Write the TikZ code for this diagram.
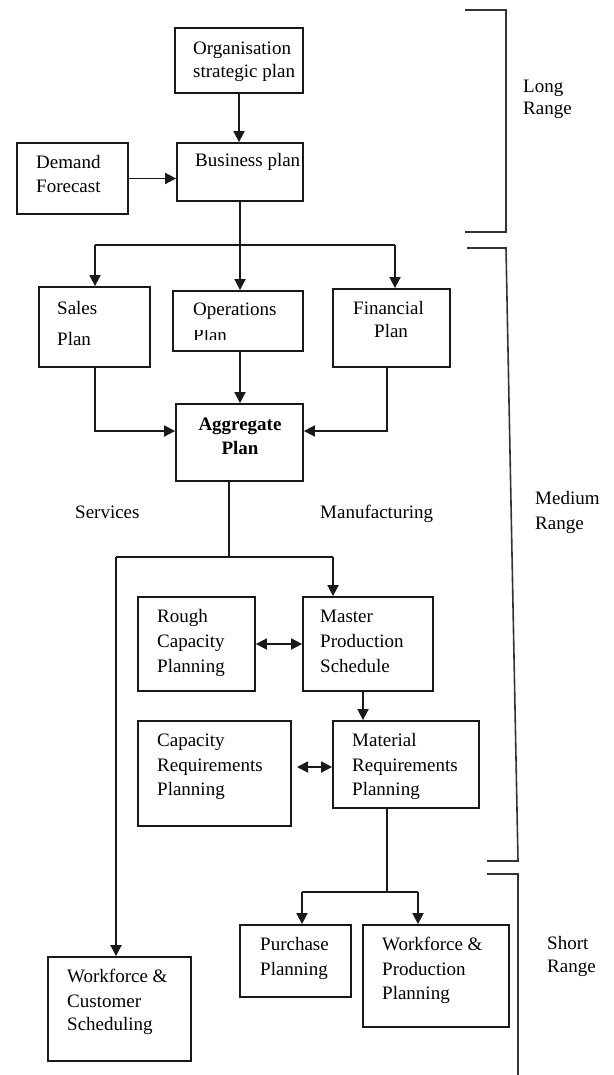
\documentclass[tikz,border=0pt]{standalone}
\usepackage{fontspec}
\setmainfont{Liberation Serif}
\usetikzlibrary{arrows.meta,fit}
\tikzset{
  box/.style={draw=black!90,line width=1.8pt,inner sep=0pt},
  conn/.style={draw=black!90,line width=1.8pt},
  arr/.style={conn,-{Triangle[length=11pt,width=11pt]}},
  darr/.style={conn,{Triangle[length=11pt,width=11pt]}-{Triangle[length=11pt,width=11pt]}},
  brk/.style={draw=black!80,line width=1.6pt},
  txt/.style={inner sep=0pt,font=\fontsize{19}{24}\selectfont,anchor=base west},
  ctxt/.style={inner sep=0pt,font=\fontsize{19}{24}\selectfont\bfseries,anchor=base},
}
\newcommand\tline[4]{\node[txt] (#1) at (#2,#3) {#4};}
\begin{document}
\begin{tikzpicture}[x=1pt,y=-1pt]
\useasboundingbox (0,0) rectangle (613,1075);
% boxes
\node[box,fit={(175,28)(303,93)}] (org) {};
\node[box,fit={(17,143)(128,214)}] (dem) {};
\node[box,fit={(177,143)(303,201)}] (bus) {};
\node[box,fit={(39,287)(150,367)}] (sales) {};
\node[box,fit={(173,291)(303,351)}] (ops) {};
\node[box,fit={(333,289)(450,367)}] (fin) {};
\node[box,fit={(176,404)(303,481)}] (agg) {};
\node[box,fit={(138,597)(255,691)}] (rough) {};
\node[box,fit={(303,597)(433,691)}] (mps) {};
\node[box,fit={(138,721)(291,826)}] (crp) {};
\node[box,fit={(333,721)(479,808)}] (mrp) {};
\node[box,fit={(240,925)(351,997)}] (pur) {};
\node[box,fit={(363,925)(509,1027)}] (wpp) {};
\node[box,fit={(48,957)(191,1061)}] (wcs) {};
% texts
\tline{t1}{193}{55}{Organisation}
\tline{t2}{193}{78}{strategic plan}
\tline{t3}{195}{167}{Business plan}
\tline{t4}{36}{169}{Demand}
\tline{t5}{36}{193}{Forecast}
\tline{t6}{57}{314}{Sales}
\tline{t7}{57}{345}{Plan}
\tline{t8}{193}{315}{Operations}
\begin{scope}
\clip (173,330) rectangle (303,339);
\tline{t9}{193}{341}{Plan}
\end{scope}
\tline{t10}{353}{314}{Financial}
\tline{t11}{374}{337}{Plan}
\node[ctxt] (t12) at (240,430) {Aggregate};
\node[ctxt] (t13) at (240,454) {Plan};
\tline{t14}{75}{518}{Services}
\tline{t15}{320}{518}{Manufacturing}
\tline{t16}{523}{93}{Long}
\tline{t17}{523}{115}{Range}
\tline{t18}{535}{504}{Medium}
\tline{t19}{535}{529}{Range}
\tline{t20}{157}{622}{Rough}
\tline{t21}{157}{647}{Capacity}
\tline{t22}{157}{672}{Planning}
\tline{t23}{320}{622}{Master}
\tline{t24}{320}{647}{Production}
\tline{t25}{320}{672}{Schedule}
\tline{t26}{157}{746}{Capacity}
\tline{t27}{157}{771}{Requirements}
\tline{t28}{157}{795}{Planning}
\tline{t29}{352}{746}{Material}
\tline{t30}{352}{771}{Requirements}
\tline{t31}{352}{795}{Planning}
\tline{t32}{260}{950}{Purchase}
\tline{t33}{260}{975}{Planning}
\tline{t34}{382}{950}{Workforce \&}
\tline{t35}{382}{975}{Production}
\tline{t36}{382}{999}{Planning}
\tline{t37}{67}{982}{Workforce \&}
\tline{t38}{67}{1007}{Customer}
\tline{t39}{67}{1030}{Scheduling}
\tline{t40}{547}{949}{Short}
\tline{t41}{547}{972}{Range}
% junction coordinates
\coordinate (j1) at (240,245);
\coordinate (j1l) at (95,245);
\coordinate (j1r) at (395,245);
\coordinate (js) at (95,431);
\coordinate (jf) at (387,431);
\coordinate (j2) at (229,557);
\coordinate (j2l) at (116,557);
\coordinate (j2r) at (333,557);
\coordinate (jc) at (297,767);
\coordinate (j3) at (387,892);
\coordinate (j3l) at (302,892);
\coordinate (j3r) at (418,892);
% connectors
\draw[arr] (org.south) -- (org.south |- bus.north);
\draw[arr] (dem.east) -- (bus.west |- dem.east);
\draw[conn] (bus.south -| j1) -- (j1);
\draw[conn] (j1l) -- (j1r);
\draw[arr] (j1l) -- (j1l |- sales.north);
\draw[arr] (j1) -- (j1 |- ops.north);
\draw[arr] (j1r) -- (j1r |- fin.north);
\draw[arr] (js |- sales.south) -- (js) -- (agg.west |- js);
\draw[arr] (ops.south -| j1) -- (j1 |- agg.north);
\draw[arr] (jf |- fin.south) -- (jf) -- (agg.east |- jf);
\draw[conn] (agg.south -| j2) -- (j2);
\draw[conn] (j2l) -- (j2r);
\draw[arr] (j2l) -- (j2l |- wcs.north);
\draw[arr] (j2r) -- (j2r |- mps.north);
\draw[darr] (rough.east) -- (mps.west |- rough.east);
\draw[arr] (mps.south -| 363,0) -- (mrp.north -| 363,0);
\draw[darr] (jc) -- (mrp.west |- jc);
\draw[conn] (mrp.south -| j3) -- (j3);
\draw[conn] (j3l) -- (j3r);
\draw[arr] (j3l) -- (j3l |- pur.north);
\draw[arr] (j3r) -- (j3r |- wpp.north);
% range brackets
\draw[brk] (465,10) -- (506,10) -- (506,232) -- (465,232);
\draw[brk] (467,248) -- (506,248) -- (518,861) -- (487,861);
\draw[brk] (487,874) -- (518,874) -- (518,1075);
\end{tikzpicture}
\end{document}
